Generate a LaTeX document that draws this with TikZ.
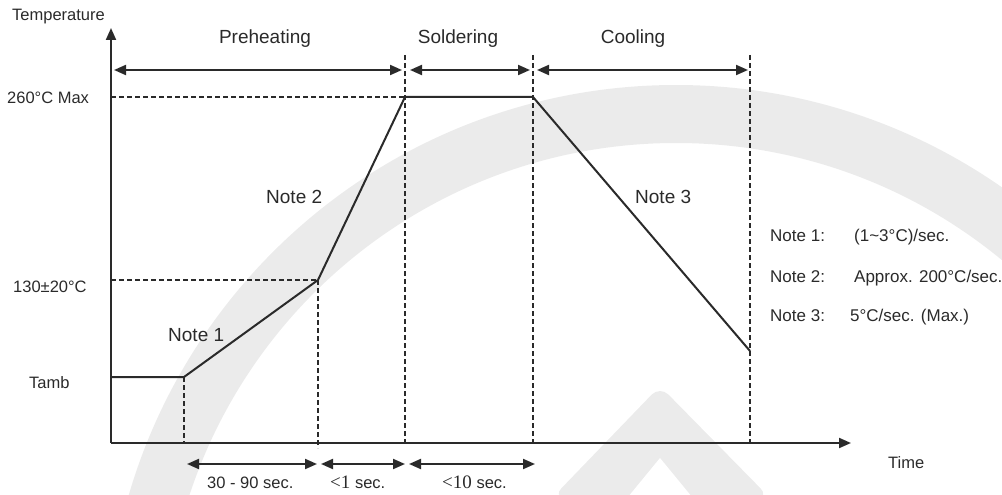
\documentclass[tikz,border=0pt]{standalone}
\usepackage{fontspec}
\setmainfont{Liberation Sans}
\newfontfamily\serifnum{Liberation Serif}
\usetikzlibrary{arrows.meta}
\definecolor{ink}{HTML}{2A2A2A}
\definecolor{wmark}{HTML}{EBEBEB}
\tikzset{
  curve/.style={draw=ink, line width=2pt, line join=miter},
  axisline/.style={draw=ink, line width=2pt, -{Triangle[length=12pt,width=10pt]}},
  guide/.style={draw=ink, line width=1.8pt, dash pattern=on 5pt off 3pt},
  span/.style={draw=ink, line width=2pt, {Triangle[length=12pt,width=10pt]}-{Triangle[length=12pt,width=10pt]}},
  lbl/.style={inner sep=0pt, text=ink, font=\fontsize{16.5}{19}\selectfont},
  big/.style={inner sep=0pt, text=ink, font=\fontsize{19}{22}\selectfont},
  note/.style={inner sep=0pt, text=ink, font=\fontsize{17}{20}\selectfont},
}
\begin{document}
\begin{tikzpicture}[x=1pt,y=-1pt]
\useasboundingbox (0,0) rectangle (1002,495);
% watermark
\begin{scope}
\clip (0,0) rectangle (1002,495);
\fill[wmark, even odd rule] (676,655) circle[radius=570] (676,655) circle[radius=512];
\fill[wmark, rounded corners=12pt] (553,497) -- (660,386) -- (769,497) -- cycle;
\fill[white] (628,497) -- (660,458) -- (692,497) -- cycle;
\end{scope}
% key points
\coordinate (O) at (111,443);
\coordinate (Ytop) at (111,28);
\coordinate (Xend) at (851,443);
\coordinate (p0) at (111,377);
\coordinate (p1) at (184,377);
\coordinate (p2) at (318,280);
\coordinate (p3) at (405,97);
\coordinate (p4) at (533,97);
\coordinate (p5) at (750,351);
\coordinate (a1) at (184,443);
\coordinate (a2) at (318,448);
\coordinate (t3) at (405,55);
\coordinate (b3) at (405,443);
\coordinate (t4) at (533,55);
\coordinate (b4) at (533,443);
\coordinate (t5) at (750,55);
\coordinate (b5) at (750,443);
\coordinate (l260) at (111,97);
\coordinate (l130) at (111,280);
% guides
\draw[guide] (l260) -- (p3);
\draw[guide] (l130) -- (p2);
\draw[guide] (p1) -- (a1);
\draw[guide] (p2) -- (a2);
\draw[guide] (t3) -- (b3);
\draw[guide] (t4) -- (b4);
\draw[guide] (t5) -- (b5);
% axes
\draw[axisline] (O) -- (Ytop);
\draw[axisline] (O) -- (Xend);
% profile
\draw[curve] (p0) -- (p1) -- (p2) -- (p3) -- (p4) -- (p5);
% top spans
\coordinate (s1a) at (114,70);
\coordinate (s1b) at (402,70);
\coordinate (s2a) at (410,70);
\coordinate (s2b) at (530,70);
\coordinate (s3a) at (537,70);
\coordinate (s3b) at (748,70);
\draw[span] (s1a) -- (s1b);
\draw[span] (s2a) -- (s2b);
\draw[span] (s3a) -- (s3b);
% bottom spans
\coordinate (u1a) at (187,464);
\coordinate (u1b) at (317,464);
\coordinate (u2a) at (321,464);
\coordinate (u2b) at (405,464);
\coordinate (u3a) at (409,464);
\coordinate (u3b) at (535,464);
\draw[span] (u1a) -- (u1b);
\draw[span] (u2a) -- (u2b);
\draw[span] (u3a) -- (u3b);
% labels
\node[lbl, anchor=base west] (ylab) at (12,21) {Temperature};
\node[lbl, anchor=base west] (xlab) at (888,468) {Time};
\node[big, anchor=base] (pre) at (265,44) {Preheating};
\node[big, anchor=base] (sol) at (458,44) {Soldering};
\node[big, anchor=base] (coo) at (633,44) {Cooling};
\node[lbl, anchor=base west] (t260) at (7,103) {260°C Max};
\node[lbl, anchor=base west] (t130) at (13,292) {130±20°C};
\node[lbl, anchor=base west] (tamb) at (29,388) {Tamb};
\node[big, anchor=base west] (n1) at (168,341) {Note 1};
\node[big, anchor=base west] (n2) at (266,203) {Note 2};
\node[big, anchor=base west] (n3) at (635,203) {Note 3};
\node[note, anchor=base west] (k1) at (770,241) {Note 1:};
\node[note, anchor=base west] (v1) at (854,241) {(1\textasciitilde 3°C)/sec.};
\node[note, anchor=base west] (k2) at (770,282) {Note 2:};
\node[note, anchor=base west] (v2) at (854,282) {Approx. 200°C/sec.};
\node[note, anchor=base west] (k3) at (770,321) {Note 3:};
\node[note, anchor=base west] (v3) at (850,321) {5°C/sec. (Max.)};
\node[lbl, anchor=base west] (d1) at (207,488) {30 - 90 sec.};
\node[lbl, anchor=base west] (d2) at (330,488) {{\serifnum\fontsize{19}{22}\selectfont <1} sec.};
\node[lbl, anchor=base west] (d3) at (442,488) {{\serifnum\fontsize{19}{22}\selectfont <10} sec.};
\end{tikzpicture}
\end{document}
